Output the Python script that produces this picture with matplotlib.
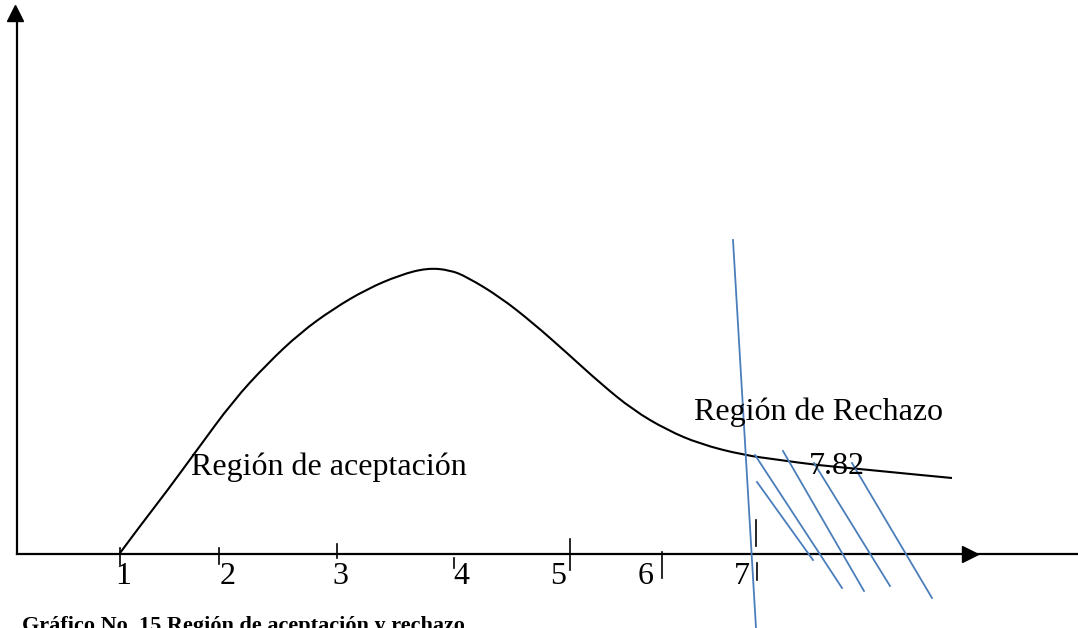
import matplotlib
matplotlib.use("Agg")
from matplotlib import pyplot as plt
from matplotlib.path import Path
from matplotlib.patches import PathPatch

# diagram drawn in page pixel units (x right, y down)
curve_x = [120, 140, 167, 197, 233, 267, 300, 333, 367, 400, 427, 450, 467, 500, 533,
           567, 600, 633, 667, 700, 743, 780, 816, 870, 910, 952]
curve_y = [553, 526, 491, 450, 401, 364, 333, 309, 289, 275, 268, 270, 277, 297, 323,
           353, 383, 410, 430, 444, 455, 460, 465, 470, 474, 478]

tick_x = [120, 219, 337, 454, 570, 662, 755.5, 757]
tick_top = [548, 548, 544, 558, 539, 552, 520, 563]
tick_bot = [565, 564, 558, 568, 570, 578, 546, 580]

label_text = ['1', '2', '3', '4', '5', '6', '7']
label_x = [123, 228, 340, 461, 558, 646, 742]
label_y = [577, 577, 577, 577, 577, 577, 577]

# blue rejection-region strokes
boundary_x = [733, 756]
boundary_y = [240, 628]
hatch_x0 = [757, 755, 783, 814, 852]
hatch_y0 = [482, 455, 451, 463, 463]
hatch_x1 = [813, 842, 864, 890, 932]
hatch_y1 = [560, 588, 591, 586, 598]

blue = '#4a7ebb'
serif = 'Liberation Serif'

fig = plt.figure(figsize=(10.78, 6.28), dpi=100)
ax = fig.add_axes([0, 0, 1, 1])
ax.set_xlim(0, 1078)
ax.set_ylim(628, 0)
ax.axis('off')

# axes with arrows
ax.plot([17, 17], [555, 12], color='black', lw=1.6, solid_capstyle='butt')
ax.plot([15], [13], marker='^', color='black', markersize=12)
ax.plot([17, 1078], [554, 554], color='black', lw=1.6)
ax.plot([970], [554], marker='>', color='black', markersize=12)

for i in range(len(tick_x)):
    ax.plot([tick_x[i], tick_x[i]], [tick_top[i], tick_bot[i]], color='black', lw=1.2)

for t, x, y in zip(label_text, label_x, label_y):
    ax.text(x, y, t, fontsize=23, family=serif, ha='center', va='center')

# smooth curve: read points used as quadratic control points
pts = list(zip(curve_x, curve_y))
verts = [pts[0]]
codes = [Path.MOVETO]
for i in range(1, len(pts) - 1):
    nxt = pts[i + 1] if i + 1 == len(pts) - 1 else ((pts[i][0] + pts[i + 1][0]) / 2,
                                                   (pts[i][1] + pts[i + 1][1]) / 2)
    verts += [pts[i], nxt]
    codes += [Path.CURVE3, Path.CURVE3]
ax.add_patch(PathPatch(Path(verts, codes), facecolor='none', edgecolor='black', lw=1.5))

ax.plot(boundary_x, boundary_y, color=blue, lw=1.3)
for i in range(len(hatch_x0)):
    ax.plot([hatch_x0[i], hatch_x1[i]], [hatch_y0[i], hatch_y1[i]], color=blue, lw=1.3)

ax.text(329, 467, 'Región de aceptación', fontsize=23, family=serif, ha='center', va='center')
ax.text(819, 412, 'Región de Rechazo', fontsize=23, family=serif, ha='center', va='center')
ax.text(837, 466, '7.82', fontsize=23, family=serif, ha='center', va='center')

ax.text(22, 616, 'Gráfico No. 15 Región de aceptación y rechazo', fontsize=16,
        family=serif, fontweight='bold', ha='left', va='top')

fig.savefig('out.png', dpi=100)
